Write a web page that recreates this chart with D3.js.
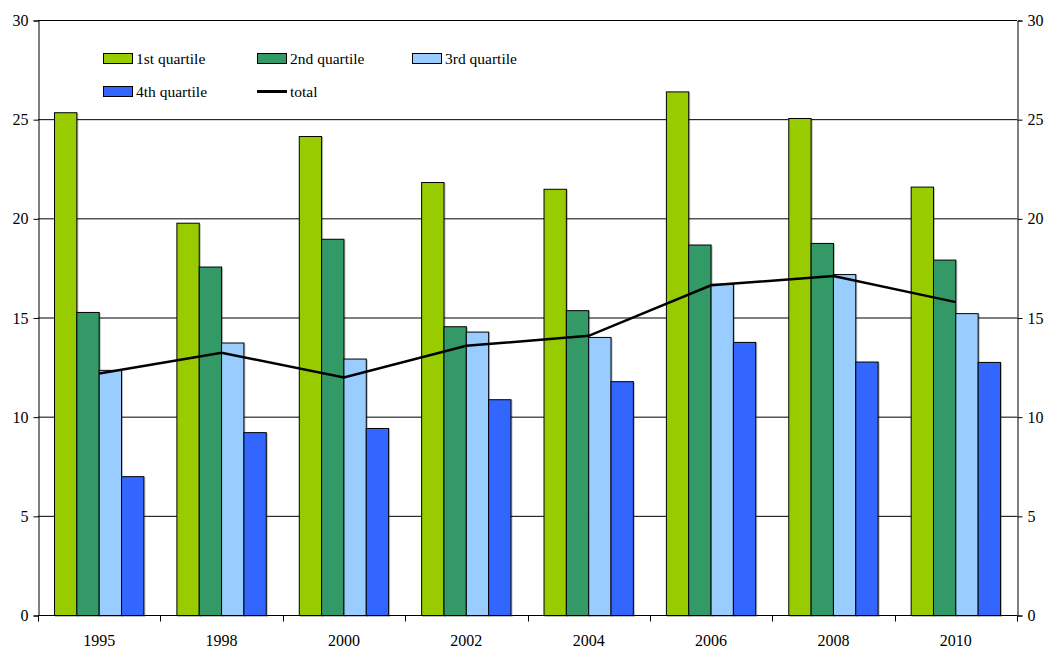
<!DOCTYPE html>
<html>
<meta charset=utf-8>
<title>Quartiles</title>
<style>
  body { margin: 0; background: #fff; }
  text { font-family: "Liberation Serif", "Times New Roman", serif; fill: #000; }
</style>
<body>
<svg id=chart width=1047 height=648></svg>
<script src="https://cdn.jsdelivr.net/npm/d3@7"></script>
<script>
// data
var years = ["1995", "1998", "2000", "2002", "2004", "2006", "2008", "2010"];
var q1 = [25.35, 19.78, 24.15, 21.83, 21.49, 26.4, 25.06, 21.6];
var q2 = [15.28, 17.57, 18.97, 14.56, 15.37, 18.68, 18.76, 17.92];
var q3 = [12.36, 13.74, 12.93, 14.29, 14.02, 16.7, 17.19, 15.22];
var q4 = [7.0, 9.22, 9.43, 10.88, 11.79, 13.77, 12.78, 12.76];
var total = [12.2, 13.25, 12.0, 13.6, 14.1, 16.65, 17.12, 15.8];
var seriesNames = ["1st quartile", "2nd quartile", "3rd quartile", "4th quartile"];
var colors = ["#99cc00", "#339966", "#99ccff", "#3366ff"];
var yTicks = [0, 5, 10, 15, 20, 25, 30];

var svg = d3.select("#chart");
// plot edges (window.top is reserved, so prefix the names)
var pLeft = 38, pRight = 1017, pTop = 20.5, pBottom = 615.5;

var x0 = d3.scaleBand().domain(years).range([pLeft, pRight]).padding(0);
var groupW = x0.bandwidth() * 0.73;
var x1 = d3.scaleBand().domain(d3.range(4)).range([0, groupW]).padding(0);
var y = d3.scaleLinear().domain([0, 30]).range([pBottom, pTop]);

// grid
svg.append("g").selectAll("line").data(yTicks.slice(1)).join("line")
    .attr("x1", pLeft).attr("x2", pRight)
    .attr("y1", function (d) { return y(d); })
    .attr("y2", function (d) { return y(d); })
    .attr("stroke", "#000").attr("stroke-width", 1);

// bars
var all = [q1, q2, q3, q4];
var groups = svg.append("g").selectAll("g").data(years).join("g")
    .attr("transform", function (d) {
        return "translate(" + (x0(d) + (x0.bandwidth() - groupW) / 2) + ",0)";
    });
groups.selectAll("rect").data(function (d, i) {
        return all.map(function (s, k) { return {k: k, v: s[i]}; });
    }).join("rect")
    .attr("x", function (d) { return x1(d.k); })
    .attr("y", function (d) { return y(d.v); })
    .attr("width", x1.bandwidth())
    .attr("height", function (d) { return y(0) - y(d.v); })
    .attr("fill", function (d) { return colors[d.k]; })
    .attr("stroke", "#000").attr("stroke-width", 1)
    .style("filter", "drop-shadow(1px 1px 0.6px rgba(0,0,0,0.25))");

// total line
var line = d3.line()
    .x(function (d, i) { return x0(years[i]) + x0.bandwidth() / 2; })
    .y(function (d) { return y(d); });
svg.append("path").datum(total)
    .attr("d", line)
    .attr("fill", "none").attr("stroke", "#000").attr("stroke-width", 2.5);

// axes
var yl = svg.append("g").attr("transform", "translate(" + (pLeft + 0.5) + ",0)")
    .call(d3.axisLeft(y).tickValues(yTicks).tickSize(5).tickPadding(5));
var yr = svg.append("g").attr("transform", "translate(" + (pRight + 0.5) + ",0)")
    .call(d3.axisRight(y).tickValues(yTicks).tickSize(5).tickPadding(5));
[yl, yr].forEach(function (g) {
    g.select(".domain").attr("stroke", "#000");
    g.selectAll("line").attr("stroke", "#000");
    g.selectAll("text").attr("font-size", 16).style("font-family", "Liberation Serif, serif");
});

// x axis with ticks at band edges
var xg = svg.append("g").attr("transform", "translate(0," + pBottom + ")");
xg.append("line").attr("x1", pLeft).attr("x2", pRight).attr("stroke", "#000");
var edges = years.map(function (d) { return x0(d); }).concat([pRight]);
xg.selectAll(".tk").data(edges).join("line").attr("class", "tk")
    .attr("x1", function (d) { return Math.round(d) + 0.5; })
    .attr("x2", function (d) { return Math.round(d) + 0.5; })
    .attr("y1", 0).attr("y2", 6).attr("stroke", "#000");
xg.selectAll("text").data(years).join("text")
    .attr("x", function (d) { return x0(d) + x0.bandwidth() / 2; })
    .attr("y", 30).attr("text-anchor", "middle").attr("font-size", 16)
    .text(function (d) { return d; });

// legend
var legendItems = [
    {name: seriesNames[0], color: colors[0], x: 103, y: 53},
    {name: seriesNames[1], color: colors[1], x: 257, y: 53},
    {name: seriesNames[2], color: colors[2], x: 412, y: 53},
    {name: seriesNames[3], color: colors[3], x: 103, y: 86},
    {name: "total", color: null, x: 257, y: 86}
];
var lg = svg.append("g").selectAll("g").data(legendItems).join("g")
    .attr("transform", function (d) { return "translate(" + d.x + "," + d.y + ")"; });
lg.filter(function (d) { return d.color; }).append("rect")
    .attr("x", 0.5).attr("y", 0.5).attr("width", 29).attr("height", 10)
    .attr("fill", function (d) { return d.color; })
    .attr("stroke", "#000").attr("stroke-width", 1);
lg.filter(function (d) { return !d.color; }).append("line")
    .attr("x1", 0).attr("x2", 30).attr("y1", 5.5).attr("y2", 5.5)
    .attr("stroke", "#000").attr("stroke-width", 3);
lg.append("text").attr("x", 33).attr("y", 11).attr("font-size", 15.5)
    .text(function (d) { return d.name; });
</script>
</body>
</html>
